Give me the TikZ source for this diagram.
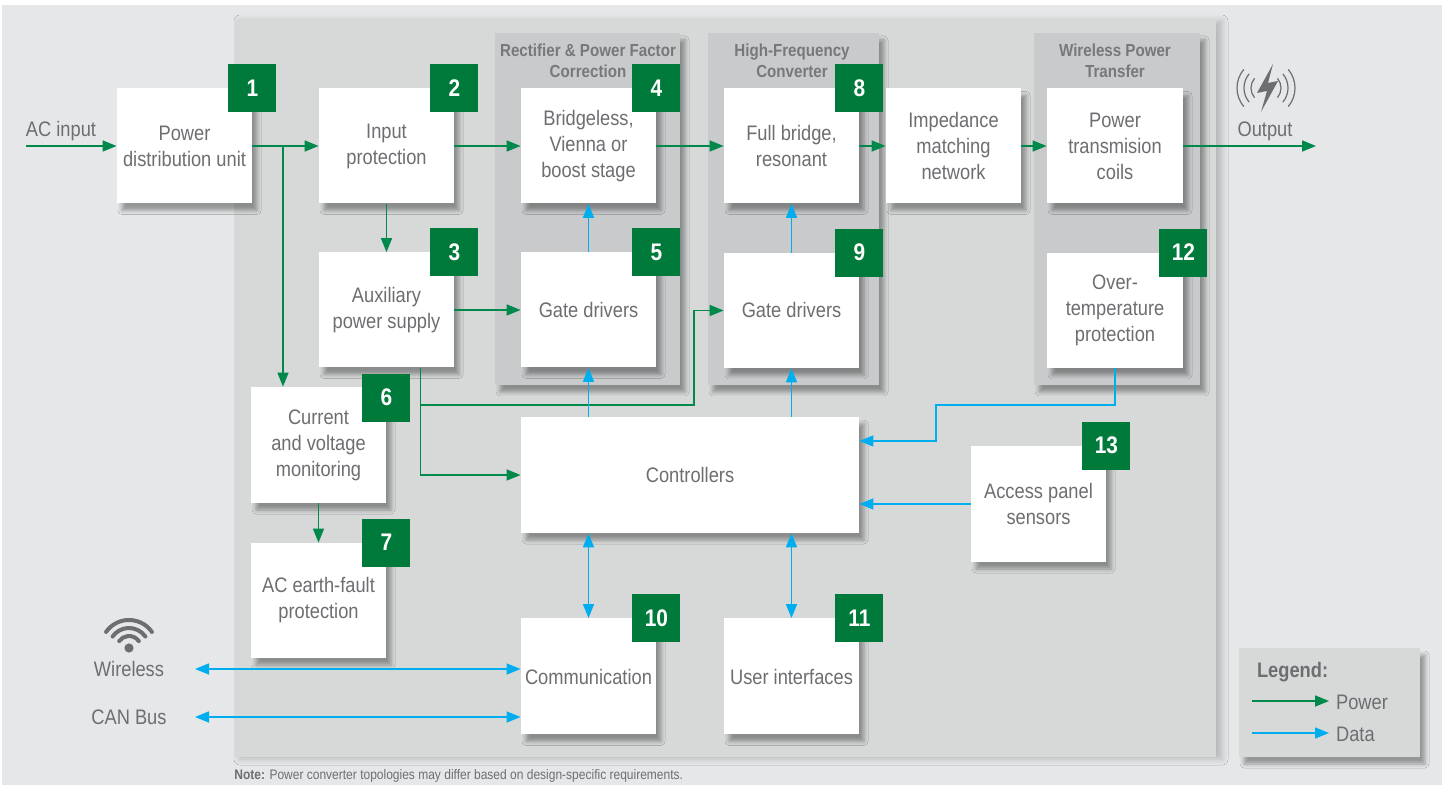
\documentclass[tikz,border=0pt]{standalone}
\usepackage{fontspec}
\setmainfont{Liberation Sans}[FakeStretch=0.87]
\usetikzlibrary{arrows.meta,positioning,shadows.blur}
\definecolor{outergray}{HTML}{E6E7E8}
\definecolor{innergray}{HTML}{D7D9D9}
\definecolor{grpgray}{HTML}{C8CACB}
\definecolor{txtgray}{HTML}{6D6E71}
\definecolor{titlegray}{HTML}{77787B}
\definecolor{badgegreen}{HTML}{007A3B}
\definecolor{pwrgreen}{HTML}{00894A}
\definecolor{datblue}{HTML}{00AEEF}

\begin{document}
\begin{tikzpicture}[x=0.5pt, y=-0.5pt, >={Triangle[length=7pt,width=5.5pt]},
                    every edge/.style={draw},
                    softshadow/.style={blur shadow={shadow xshift=2.5pt, shadow yshift=-3.5pt, shadow blur radius=2pt, shadow opacity=35}},
                    block/.style={fill=white, minimum width=67.5pt, minimum height=57.5pt, inner sep=2pt, align=center,
                                  text=txtgray, font=\fontsize{10.5}{13}\selectfont, softshadow},
                    badge/.style={fill=badgegreen, text=white, minimum size=24pt, inner sep=0pt, font=\fontsize{12}{12}\selectfont\bfseries},
                    group/.style={fill=grpgray, inner sep=0pt, minimum height=176pt, softshadow},
                    grouptitle/.style={text=titlegray, align=center, font=\fontsize{8.7}{10.5}\selectfont\bfseries},
                    lbl/.style={text=txtgray, font=\fontsize{10.5}{13}\selectfont},
                    pwr/.style={draw=pwrgreen, line width=0.8pt, ->},
                    dat/.style={draw=datblue, line width=0.8pt, ->}]

\useasboundingbox (0,0) rectangle (1448,785);
\fill[white] (0,0) rectangle (1448,785);
\fill[outergray] (2,5) rectangle (1442,785);

% panels
\node[fill=innergray, inner sep=0pt, minimum width=491pt, minimum height=369pt,
      blur shadow={shadow xshift=3pt, shadow yshift=-1pt, shadow blur radius=3pt, shadow opacity=20}] (panel) at (725,388) {};
\node[group, minimum width=92.5pt] (grpPfc) at (587.5,209) {};
\node[group, minimum width=85.5pt] (grpHf) at (793.5,209) {};
\node[group, minimum width=83pt] (grpWpt) at (1117,209) {};
\node[grouptitle] (tPfc) at (588,61) {Rectifier \& Power Factor\\Correction};
\node[grouptitle] (tHf) at (792,61) {High-Frequency\\Converter};
\node[grouptitle] (tWpt) at (1115,61) {Wireless Power\\Transfer};

% blocks
\node[block] (pdu) at (184.5,146) {Power\\distribution unit};
\node[block] (inprot) at (386.5,146) {Input\\protection};
\node[block] (aux) at (386.5,310) {Auxiliary\\power supply};
\node[block] (pfc) at (588.5,146) {Bridgeless,\\Vienna or\\boost stage};
\node[block] (gd1) at (588.5,310) {Gate drivers};
\node[block, minimum height=58pt] (mon) at (318.5,445) {Current\\and voltage\\monitoring};
\node[block] (earth) at (318.5,600.5) {AC earth-fault\\protection};
\node[block] (hfc) at (791.5,146) {Full bridge,\\resonant};
\node[block] (gd2) at (791.5,310.5) {Gate drivers};
\node[block] (imp) at (953.5,146) {Impedance\\matching\\network};
\node[block, minimum width=68pt] (coils) at (1115,146) {Power\\transmision\\coils};
\node[block, minimum width=68pt] (otp) at (1115,310.5) {Over-\\temperature\\protection};
\node[block, minimum width=169pt, minimum height=58pt] (ctrl) at (690,475) {Controllers};
\node[block, minimum height=58pt] (acc) at (1038.5,504) {Access panel\\sensors};
\node[block, minimum height=58pt] (comm) at (588.5,676.5) {Communication};
\node[block, minimum height=58pt] (ui) at (791.5,676.5) {User interfaces};

% badges
\node[badge] (b1) at (pdu.north east) {1};
\node[badge] (b2) at (inprot.north east) {2};
\node[badge] (b3) at (aux.north east) {3};
\node[badge] (b4) at (pfc.north east) {4};
\node[badge] (b5) at (gd1.north east) {5};
\node[badge] (b6) at ([yshift=-5.5pt]mon.north east) {6};
\node[badge] (b7) at (earth.north east) {7};
\node[badge] (b8) at (hfc.north east) {8};
\node[badge] (b9) at (gd2.north east) {9};
\node[badge] (b10) at (comm.north east) {10};
\node[badge] (b11) at (ui.north east) {11};
\node[badge] (b12) at (otp.north east) {12};
\node[badge] (b13) at (acc.north east) {13};

% outside labels
\node[lbl] (aclbl) at (61,131) {AC input};
\node[lbl] (outlbl) at (1265,131) {Output};
\node[lbl] (wllbl) at (129,669) {Wireless};
\node[lbl] (canlbl) at (129,717) {CAN Bus};
\coordinate (acin) at (26,146);
\coordinate (outp) at (1316,146);
\coordinate (br) at (283,146);
\coordinate (kink) at (694,405);
\coordinate (bend) at (936,405);
\coordinate (wl) at (195,669);
\coordinate (can) at (195,717);

% power
\path
(acin) edge [pwr] (pdu)
(pdu) edge [pwr] (inprot)
(inprot) edge [pwr] (pfc)
(pfc) edge [pwr] (hfc)
(hfc) edge [pwr] (imp)
(imp) edge [pwr] (coils)
(coils) edge [pwr] (outp)
(inprot) edge [pwr] (aux)
(aux) edge [pwr] (gd1)
(mon) edge [pwr] (earth);
\draw[pwr] (br) -- (br |- mon.north);
\draw[pwr] ([xshift=17pt]aux.south) |- (ctrl.west);
\draw[pwr] ([xshift=17pt]aux.south) |- (kink) |- (gd2.west);

% data
\path
(gd1) edge [dat] (pfc)
(gd2) edge [dat] (hfc)
(acc) edge [dat] (acc -| ctrl.east);
\draw[dat] (gd1.south |- ctrl.north) -- (gd1.south);
\draw[dat] (gd2.south |- ctrl.north) -- (gd2.south);
\draw[dat] (otp.south) |- (bend) |- ([yshift=17pt]ctrl.east);
\draw[dat, <->] (gd1.south |- ctrl.south) -- (comm.north);
\draw[dat, <->] (gd2.south |- ctrl.south) -- (ui.north);
\draw[dat, <->] (wl) -- (wl -| comm.west);
\draw[dat, <->] (can) -- (can -| comm.west);

% icons
\begin{scope}[shift={(129,648)}, y=0.5pt, txtgray]
\fill (0,0) circle (2.3pt);
\draw[line width=2pt, line cap=round] (35:12) arc[start angle=35, end angle=145, radius=12];
\draw[line width=2pt, line cap=round] (35:20) arc[start angle=35, end angle=145, radius=20];
\draw[line width=2pt, line cap=round] (35:28) arc[start angle=35, end angle=145, radius=28];
\end{scope}
\begin{scope}[shift={(1266,88)}, y=0.5pt, txtgray]
\fill (7,24) -- (-9,-5) -- (1,-3) -- (-5,-24) -- (12,7) -- (2,5) -- cycle;
\draw[line width=0.6pt] (140:15) arc[start angle=140, end angle=220, radius=15];
\draw[line width=0.6pt] (140:22) arc[start angle=140, end angle=220, radius=22];
\draw[line width=0.6pt] (140:29) arc[start angle=140, end angle=220, radius=29];
\draw[line width=0.6pt] (-40:15) arc[start angle=-40, end angle=40, radius=15];
\draw[line width=0.6pt] (-40:22) arc[start angle=-40, end angle=40, radius=22];
\draw[line width=0.6pt] (-40:29) arc[start angle=-40, end angle=40, radius=29];
\end{scope}

% legend
\node[fill=innergray, minimum width=90.5pt, minimum height=54.5pt, softshadow] (legend) at (1329.5,702.5) {};
\node[lbl, anchor=west, font=\fontsize{10.5}{13}\selectfont\bfseries] (legtitle) at (1250,672) {Legend:};
\node[lbl, anchor=west] (legpwr) at (1329,702) {Power};
\node[lbl, anchor=west] (legdat) at (1329,734) {Data};
\coordinate (lp) at (1252,701);
\coordinate (ld) at (1252,733);
\draw[pwr] (lp) -- (lp -| legpwr.west);
\draw[dat] (ld) -- (ld -| legdat.west);

\node[anchor=west, text=txtgray, inner sep=0pt, font=\fontsize{6.9}{7}\selectfont] (note) at (234,776) {\textbf{Note:} Power converter topologies may differ based on design-specific requirements.};
\end{tikzpicture}
\end{document}
